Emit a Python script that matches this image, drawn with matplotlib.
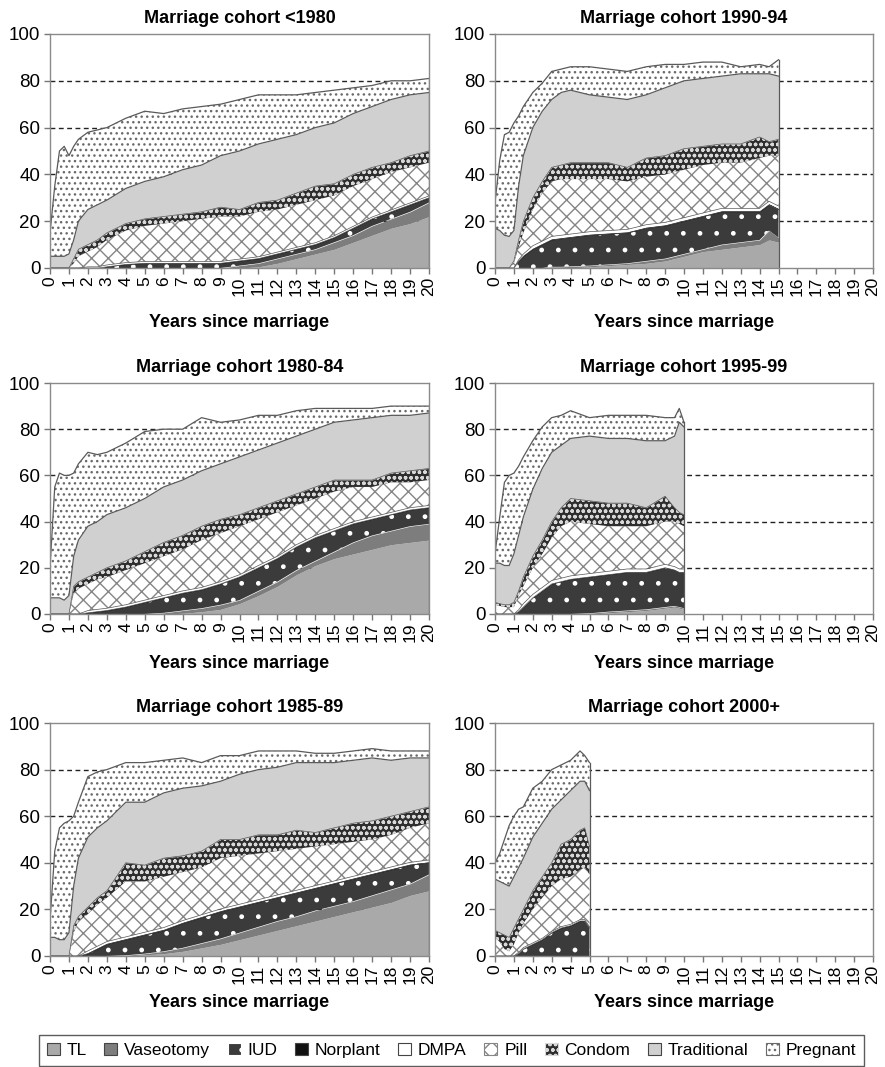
import numpy as np
import matplotlib.pyplot as plt
from matplotlib.patches import Patch

plt.rcParams['font.family'] = ['Liberation Sans', 'DejaVu Sans']
plt.rcParams['hatch.linewidth'] = 1.0

methods = ['TL', 'Vaseotomy', 'IUD', 'Norplant', 'DMPA', 'Pill', 'Condom', 'Traditional', 'Pregnant']

# All series are cumulative % of women: upper edge of each band,
# stacked in the order of `methods`.

# Marriage cohort <1980
yrs_80 = [0, .25, .5, .75, 1, 1.25, 1.5, 2, 2.5, 3, 4, 5, 6, 7, 8, 9, 10, 11, 12, 13, 14, 15, 16, 17, 18, 19, 20]
c80_tl = [0, 0, 0, 0, 0, 0, 0, 0, 0, 0, 0, 0, 0, 0, 0, 0, 0, 0.5, 2, 4, 6, 8, 11, 14, 17, 19, 22]
c80_vas = [0, 0, 0, 0, 0, 0, 0, 0, 0, 0, 0, 0, 0, 0, 0, 0, 1, 2, 4, 6, 8, 11, 14, 18, 21, 24, 28]
c80_iud = [0, 0, 0, 0, 0, 0, 0, 0, 0, 0.5, 1.5, 2, 2, 2, 2, 2, 3, 4, 6, 8, 10, 13, 17, 21, 24, 27, 30]
c80_nor = [0, 0, 0, 0, 0, 0, 0, 0, 0, 0.8, 1.8, 2.3, 2.3, 2.3, 2.3, 2.3, 3.3, 4.3, 6.3, 8.3, 10.3, 13.3, 17.3, 21.3, 24.3, 27.3, 30.3]
c80_dmpa = [0, 0, 0, 0, 0, 0, 0, 0.5, 0.5, 1.3, 2.3, 2.8, 2.8, 2.8, 2.8, 2.8, 3.8, 4.8, 6.8, 8.8, 10.8, 13.8, 17.8, 21.8, 24.8, 27.8, 30.8]
c80_pill = [0, 0, 0, 0, 0, 2, 5, 7, 9, 12, 16, 18, 19, 20, 21, 22, 22, 24, 25, 27, 29, 31, 35, 38, 41, 43, 45]
c80_cond = [0, 0, 0, 0, 0, 4, 8, 10, 12, 15, 19, 21, 22, 23, 24, 26, 25, 28, 29, 32, 35, 36, 40, 43, 45, 48, 50]
c80_trad = [5, 5, 5, 5, 6, 12, 20, 25, 27, 29, 34, 37, 39, 42, 44, 48, 50, 53, 55, 57, 60, 62, 66, 69, 72, 74, 75]
c80_preg = [15, 35, 50, 52, 48, 52, 55, 58, 59, 60, 64, 67, 66, 68, 69, 70, 72, 74, 74, 74, 75, 76, 77, 78, 80, 80, 81]

# Marriage cohort 1980-84
yrs_8084 = yrs_80
c8084_tl = [0, 0, 0, 0, 0, 0, 0, 0, 0, 0, 0, 0, 0, 0.3, 1, 2, 4.5, 8, 12, 17, 21, 24, 26, 28, 30, 31, 32]
c8084_vas = [0, 0, 0, 0, 0, 0, 0, 0, 0, 0, 0, 0, 0.5, 1.5, 2.5, 4, 6, 10, 14, 19, 23, 27, 31, 34, 36, 38, 39]
c8084_iud = [0, 0, 0, 0, 0, 0, 0, 0.5, 1, 1.5, 3, 5, 7, 9, 10.5, 13, 16, 20, 24, 29, 33, 36, 39, 41, 43, 45, 46]
c8084_nor = [0, 0, 0, 0, 0, 0, 0, 0.8, 1.3, 1.8, 3.3, 5.3, 7.3, 9.3, 10.8, 13.3, 16.3, 20.3, 24.3, 29.3, 33.3, 36.3, 39.3, 41.3, 43.3, 45.3, 46.3]
c8084_dmpa = [0, 0, 0, 0, 0, 0, 0, 1.5, 2, 2.5, 4, 6, 8, 10, 11.5, 14, 17, 21, 25, 30, 34, 37, 40, 42, 44, 46, 47]
c8084_pill = [0, 0, 0, 0, 0, 9, 11, 13, 15, 16, 19, 22, 25, 28, 32, 35, 38, 41, 44, 47, 50, 53, 55, 55, 57, 57, 58]
c8084_cond = [0, 0, 0, 0, 0, 12, 14, 16, 18, 20, 23, 27, 31, 34, 38, 41, 43, 46, 49, 52, 55, 58, 58, 58, 61, 62, 63]
c8084_trad = [7, 7, 7, 6, 8, 25, 32, 38, 40, 43, 46, 50, 55, 58, 62, 65, 68, 71, 74, 77, 80, 83, 84, 85, 86, 86, 87]
c8084_preg = [20, 55, 61, 60, 60, 61, 65, 70, 69, 70, 74, 79, 80, 80, 85, 83, 84, 86, 86, 88, 89, 89, 89, 89, 90, 90, 90]

# Marriage cohort 1985-89
yrs_8589 = yrs_80
c8589_tl = [0, 0, 0, 0, 0, 0, 0, 0, 0, 0, 0, 0.5, 1, 2, 3.5, 5, 7, 9, 11, 13, 15, 17, 19, 21, 23, 26, 28]
c8589_vas = [0, 0, 0, 0, 0, 0, 0, 0, 0, 0, 0.3, 1, 2, 3.5, 5.5, 7.5, 10, 12.5, 15, 17, 19.5, 21.5, 23.5, 26, 28.5, 31, 35]
c8589_iud = [0, 0, 0, 0, 0, 0, 0, 1, 3, 5, 7, 9, 11, 14, 16.5, 19, 21, 23, 25, 27, 29, 31, 33, 35, 37, 39, 40]
c8589_nor = [0, 0, 0, 0, 0, 0, 0, 1.5, 3.5, 5.5, 7.5, 9.5, 11.5, 14.5, 17, 19.5, 21.5, 23.5, 25.5, 27.5, 29.5, 31.5, 33.5, 35.5, 37.5, 39.5, 40.5]
c8589_dmpa = [0, 0, 0, 0, 0, 0, 0, 2.2, 4.2, 6.2, 8.2, 10.2, 12.2, 15.2, 17.7, 20.2, 22.2, 24.2, 26.2, 28.2, 30.2, 32.2, 34.2, 36.2, 38.2, 40.2, 41.2]
c8589_pill = [0, 0, 0, 0, 0, 10, 15, 18, 22, 25, 32, 32, 34, 36, 38, 42, 43, 44, 45, 46, 47, 48, 49, 50, 52, 55, 57]
c8589_cond = [0, 0, 0, 0, 0, 13, 17, 21, 25, 28, 40, 39, 42, 43, 45, 50, 50, 52, 52, 54, 53, 55, 57, 58, 60, 62, 64]
c8589_trad = [8, 8, 7, 7, 10, 30, 42, 51, 55, 58, 66, 66, 70, 72, 73, 75, 78, 80, 81, 83, 83, 83, 84, 85, 84, 85, 85]
c8589_preg = [15, 45, 55, 57, 58, 60, 66, 77, 79, 80, 83, 83, 84, 85, 83, 86, 86, 88, 88, 88, 87, 87, 88, 89, 88, 88, 88]

# Marriage cohort 1990-94
yrs_9094 = [0, .25, .5, .75, 1, 1.25, 1.5, 2, 2.5, 3, 3.5, 4, 5, 6, 7, 8, 9, 10, 11, 12, 13, 14, 14.5, 15]
c9094_tl = [0, 0, 0, 0, 0, 0, 0, 0, 0, 0, 0, 0, 0.5, 1, 1.5, 2, 3, 5, 7, 8, 9, 10, 12, 11]
c9094_vas = [0, 0, 0, 0, 0, 0, 0, 0, 0, 0.5, 0.5, 0.7, 1, 1.5, 2, 3, 4, 6, 8, 10, 11, 12, 16, 13]
c9094_iud = [0, 0, 0, 0, 0, 3, 5, 8, 10, 12, 12.5, 13, 14, 14.5, 15, 17, 18, 20, 22, 24, 24, 24, 27, 25]
c9094_nor = [0, 0, 0, 0, 0, 3.3, 5.5, 8.5, 10.5, 12.5, 13, 13.5, 14.5, 15, 15.5, 17.5, 18.5, 20.5, 22.5, 24.5, 24.5, 24.5, 27.5, 25.5]
c9094_dmpa = [0, 0, 0, 0, 0, 3.5, 6, 9.5, 11.5, 13.5, 14, 14.5, 15.5, 16, 16.5, 18.5, 19.5, 21.5, 23.5, 25.5, 25.5, 25.5, 28.5, 26.5]
c9094_pill = [0, 0, 0, 0, 2, 9, 15, 25, 32, 37, 38, 38, 38, 38, 37, 39, 40, 42, 44, 45, 45, 47, 48, 48]
c9094_cond = [0, 0, 0, 0, 3, 12, 20, 30, 37, 43, 44, 45, 45, 45, 43, 47, 48, 51, 52, 53, 53, 56, 54, 55]
c9094_trad = [17, 16, 14, 13.5, 16, 35, 48, 60, 67, 72, 75, 76, 74, 73, 72, 74, 77, 80, 81, 82, 83, 83, 83, 82]
c9094_preg = [28, 46, 57, 58, 62, 65, 69, 75, 79, 84, 85, 86, 86, 85, 84, 86, 87, 87, 88, 88, 86, 87, 86, 89]

# Marriage cohort 1995-99
yrs_9599 = [0, .25, .5, .75, 1, 1.25, 1.5, 2, 2.5, 3, 3.5, 4, 5, 6, 7, 8, 9, 9.5, 9.75, 10]
c9599_tl = [0, 0, 0, 0, 0, 0, 0, 0, 0, 0, 0, 0, 0, 0.5, 1, 1.5, 2.5, 3, 2.5, 2]
c9599_vas = [0, 0, 0, 0, 0, 0, 0, 0, 0, 0, 0, 0, 0.3, 1, 1.5, 2, 3, 3.5, 3, 2.5]
c9599_iud = [0, 0, 0, 0, 0, 1, 3, 7, 10, 13, 14, 15, 16, 17, 18, 18, 20, 19, 18, 18]
c9599_nor = [0, 0, 0, 0, 0, 1.3, 3.3, 7.3, 10.3, 13.3, 14.3, 15.3, 16.3, 17.3, 18.3, 18.3, 20.3, 19.3, 18.3, 18.3]
c9599_dmpa = [0, 0, 0, 0, 0, 1.8, 4.5, 8.5, 11.5, 14.5, 15.5, 16.5, 17.5, 18.5, 19.5, 19.5, 21.5, 20.5, 19.5, 19.5]
c9599_pill = [4, 3.5, 3, 3, 3, 8, 12, 20, 26, 33, 38, 40, 39, 38, 38, 38, 40, 40, 39, 38]
c9599_cond = [5, 4.5, 4, 4, 5, 10, 16, 25, 32, 40, 46, 50, 49, 48, 48, 46, 51, 46, 44, 43]
c9599_trad = [22, 22, 21, 21, 26, 34, 42, 54, 63, 70, 73, 76, 77, 76, 76, 75, 75, 77, 83, 81]
c9599_preg = [26, 42, 57, 60, 61, 64, 68, 75, 81, 85, 86, 88, 85, 86, 86, 86, 85, 85, 89, 83]

# Marriage cohort 2000+
yrs_00 = [0, .25, .5, .75, 1, 1.25, 1.5, 2, 2.5, 3, 3.5, 4, 4.5, 4.75, 5]
c00_tl = [0] * 15
c00_vas = [0] * 15
c00_iud = [0, 0, 0, 0, 0, 1, 3, 5, 7, 10, 12, 13, 15, 15, 12]
c00_nor = [0, 0, 0, 0, 0, 1.3, 3.3, 5.3, 7.3, 10.3, 12.3, 13.3, 15.3, 15.3, 12.3]
c00_dmpa = [0, 0, 0, 0, 0, 1.6, 3.6, 5.6, 7.6, 10.6, 12.6, 13.6, 15.6, 15.6, 12.6]
c00_pill = [8, 6, 3, 2, 5, 10, 14, 20, 25, 30, 33, 34, 37, 38, 35]
c00_cond = [11, 10, 9, 8, 12, 16, 20, 28, 34, 40, 48, 50, 54, 55, 47]
c00_trad = [33, 32, 31, 30, 34, 38, 42, 51, 57, 63, 67, 71, 75, 75, 71]
c00_preg = [40, 44, 50, 56, 60, 63, 64, 72, 75, 80, 82, 84, 88, 86, 83]

# fill colour, hatch and hatch colour per method
face = ['#a9a9a9', '#7d7d7d', '#3b3b3b', '#111111', 'white', 'white', '#2e2e2e', '#d0d0d0', 'white']
hatch = [None, None, '.', None, None, 'xx', 'ooo', None, '...']
hcol = ['#a9a9a9', '#7d7d7d', 'white', '#111111', 'white', '#858585', '#d8d8d8', '#d0d0d0', '#6a6a6a']

panels = [
    ('Marriage cohort <1980', yrs_80,
     [c80_tl, c80_vas, c80_iud, c80_nor, c80_dmpa, c80_pill, c80_cond, c80_trad, c80_preg]),
    ('Marriage cohort 1990-94', yrs_9094,
     [c9094_tl, c9094_vas, c9094_iud, c9094_nor, c9094_dmpa, c9094_pill, c9094_cond, c9094_trad, c9094_preg]),
    ('Marriage cohort 1980-84', yrs_8084,
     [c8084_tl, c8084_vas, c8084_iud, c8084_nor, c8084_dmpa, c8084_pill, c8084_cond, c8084_trad, c8084_preg]),
    ('Marriage cohort 1995-99', yrs_9599,
     [c9599_tl, c9599_vas, c9599_iud, c9599_nor, c9599_dmpa, c9599_pill, c9599_cond, c9599_trad, c9599_preg]),
    ('Marriage cohort 1985-89', yrs_8589,
     [c8589_tl, c8589_vas, c8589_iud, c8589_nor, c8589_dmpa, c8589_pill, c8589_cond, c8589_trad, c8589_preg]),
    ('Marriage cohort 2000+', yrs_00,
     [c00_tl, c00_vas, c00_iud, c00_nor, c00_dmpa, c00_pill, c00_cond, c00_trad, c00_preg]),
]

W, H = 885, 1067
fig = plt.figure(figsize=(W / 100, H / 100), dpi=100)

# pixel boxes (left, right, top, bottom) of each plot area
cols = [(50, 429), (495, 873)]
rows = [(34, 268), (383, 614), (723, 956)]
label_y = [-0.235, -0.215, -0.20]

for i, (title, yrs, tops) in enumerate(panels):
    r, c = divmod(i, 2)
    l, rr = cols[c]
    t, b = rows[r]
    ax = fig.add_axes([l / W, 1 - b / H, (rr - l) / W, (b - t) / H])

    for g in [20, 40, 60, 80]:
        ax.axhline(g, color='#222222', lw=1.0, ls=(0, (3.5, 2.5)), zorder=0.5)

    x = np.array(yrs, dtype=float)
    lower = np.zeros_like(x)
    for k, top in enumerate(tops):
        upper = np.array(top, dtype=float)
        ax.fill_between(x, lower, upper, facecolor=face[k], edgecolor=hcol[k],
                        hatch=hatch[k], linewidth=0, zorder=1)
        lower = upper
    for k, top in enumerate(tops):
        if k >= 7:
            ax.plot(x, top, color='#5a5a5a', lw=0.9, zorder=2)
        elif k in (2, 4, 6):
            ax.plot(x, top, color='#555555', lw=0.5, zorder=2)
    # closing edge where the observation window ends
    ax.plot([x[-1], x[-1]], [0, tops[-1][-1]], color='#5a5a5a', lw=0.9, zorder=2)

    ax.set_xlim(0, 20)
    ax.set_ylim(0, 100)
    ax.set_xticks(range(0, 21))
    ax.set_xticklabels([str(v) for v in range(0, 21)], rotation=90, fontsize=12.5)
    ax.set_yticks(range(0, 101, 20))
    ax.tick_params(axis='y', labelsize=13.5, length=4, width=1, color='#777777', pad=3)
    ax.tick_params(axis='x', length=4, width=1, color='#777777', pad=2)
    for s in ax.spines.values():
        s.set_color('#8a8a8a')
        s.set_linewidth(1.0)
        s.set_zorder(3)

    ax.set_title(title, fontsize=13, fontweight='bold', pad=8)
    ax.set_xlabel('Years since marriage', fontsize=13, fontweight='bold')
    ax.xaxis.set_label_coords(0.5, label_y[r])
    ax.xaxis.label.set_va('center')

handles = []
for k in range(len(methods)):
    edge = hcol[k] if hatch[k] else '#444444'
    handles.append(Patch(facecolor=face[k], edgecolor=edge, hatch=hatch[k], linewidth=0.8))

fig.legend(handles, methods, loc='lower left', bbox_to_anchor=(39 / W, 1 / H),
           ncol=9, fontsize=12.5, frameon=True, fancybox=False, edgecolor='#333333',
           handlelength=0.75, handleheight=0.75, handletextpad=0.4,
           columnspacing=1.0, borderpad=0.45, borderaxespad=0)

fig.savefig('out.png', dpi=100)
